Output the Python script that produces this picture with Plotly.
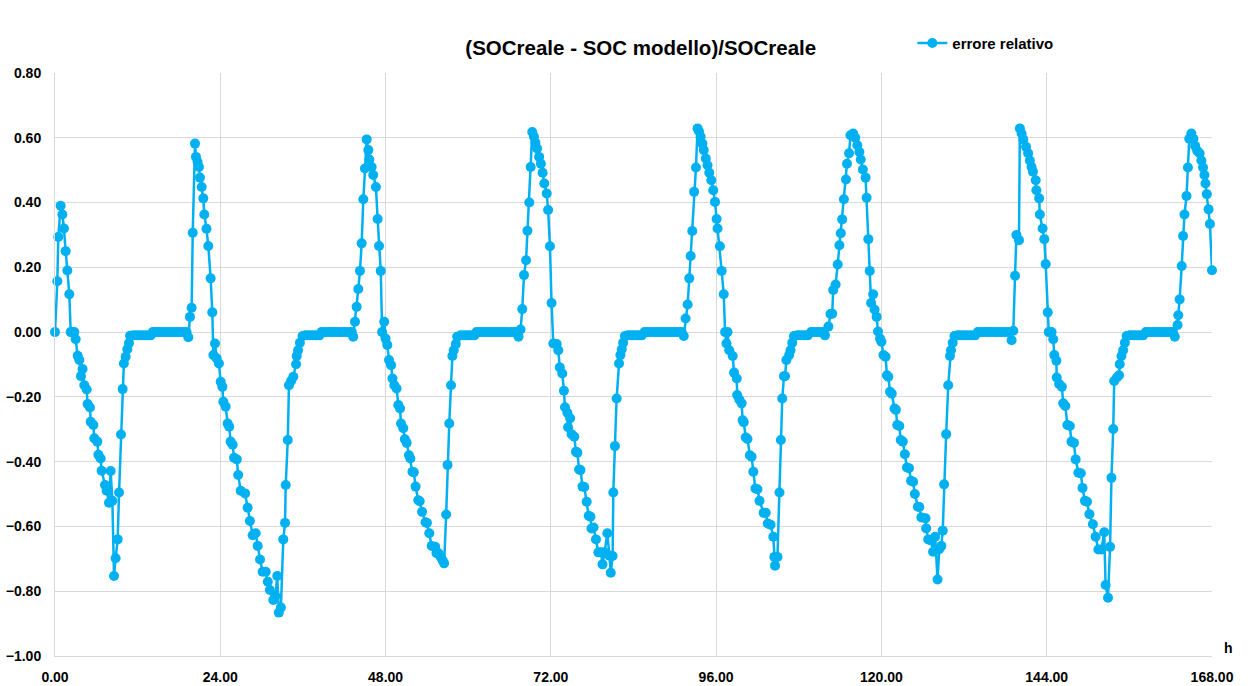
import plotly.graph_objects as go

# Errore relativo (SOCreale - SOC modello)/SOCreale lungo una settimana (ore)

ore_a = [0.00, 0.34, 0.48, 0.82, 1.07, 1.30, 1.55, 1.79, 2.08, 2.28,
         2.55, 2.80, 3.00, 3.29, 3.53, 3.77, 4.00, 4.26, 4.60, 4.74,
         5.08, 5.18, 5.57, 5.71, 6.15, 6.30, 6.63, 6.77, 7.26, 7.50,
         7.84, 8.08, 8.33, 8.57, 8.80, 9.10, 9.30, 9.58, 9.82, 10.00,
         10.26, 10.50, 10.74, 10.90,
         11.40, 11.90, 12.40, 12.90, 13.40, 13.90,
         14.20, 14.70, 15.20, 15.70, 16.20, 16.70, 17.20, 17.70, 18.20, 18.70, 19.10,
         19.36, 19.60, 19.84, 20.00]
err_a = [0.000, 0.157, 0.294, 0.390, 0.363, 0.320, 0.250, 0.190, 0.117, 0.000,
         0.000, 0.000, -0.022, -0.073, -0.086, -0.136, -0.114, -0.164, -0.177, -0.222,
         -0.233, -0.277, -0.287, -0.328, -0.338, -0.379, -0.390, -0.428, -0.472, -0.490,
         -0.527, -0.429, -0.521, -0.753, -0.698, -0.640, -0.495, -0.316, -0.176, -0.097,
         -0.076, -0.053, -0.034, -0.011,
         -0.010, -0.010, -0.010, -0.010, -0.010, -0.010,
         0.000, 0.000, 0.000, 0.000, 0.000, 0.000, 0.000, 0.000, 0.000, 0.000, 0.000,
         -0.016, 0.047, 0.075, 0.307]

ore_b = [20.33, 20.47, 20.70, 20.90, 21.05, 21.30, 21.53, 21.68, 22.00, 22.26,
         22.60, 22.84, 23.00, 23.23, 23.47, 23.80, 24.06, 24.30, 24.44, 24.78,
         25.07, 25.30, 25.50, 25.80, 26.00, 26.40, 26.60, 26.96, 27.60, 27.97,
         28.30, 28.70, 29.14, 29.43, 29.77, 30.15, 30.60, 30.90, 31.20, 31.70,
         32.00, 32.27, 32.50, 32.80, 33.15, 33.40, 33.50, 33.80, 33.97, 34.30,
         34.60, 35.00, 35.10, 35.30, 35.56, 35.95,
         36.40, 36.90, 37.40, 37.90, 38.40,
         38.70, 39.20, 39.70, 40.20, 40.70, 41.20, 41.70, 42.20, 42.70, 43.10,
         43.30]
err_b = [0.582, 0.541, 0.525, 0.510, 0.477, 0.448, 0.413, 0.363, 0.319, 0.266,
         0.166, 0.061, -0.071, -0.035, -0.081, -0.097, -0.153, -0.169, -0.215, -0.230,
         -0.282, -0.292, -0.338, -0.348, -0.388, -0.393, -0.441, -0.490, -0.498, -0.542,
         -0.583, -0.627, -0.621, -0.660, -0.702, -0.740, -0.740, -0.771, -0.796, -0.827,
         -0.815, -0.753, -0.866, -0.850, -0.640, -0.589, -0.472, -0.333, -0.164, -0.150,
         -0.138, -0.099, -0.074, -0.056, -0.033, -0.012,
         -0.010, -0.010, -0.010, -0.010, -0.010,
         0.000, 0.000, 0.000, 0.000, 0.000, 0.000, 0.000, 0.000, 0.000, 0.000,
         -0.014]

ore_c = [43.56, 43.80, 44.04, 44.28, 44.53, 44.77, 45.00, 45.26, 45.50, 45.64,
         45.98, 46.20, 46.60, 46.85, 47.05, 47.30, 47.50, 47.80, 48.00, 48.25,
         48.50, 48.80, 49.00, 49.27, 49.60, 49.85, 50.10, 50.24, 50.57, 50.80,
         51.06, 51.40, 51.60, 51.90, 52.10, 52.36, 52.75, 52.95, 53.30, 53.80,
         54.00, 54.35, 54.70, 55.20, 55.40, 55.70, 56.00, 56.30, 56.50, 56.80,
         57.00, 57.25, 57.50, 57.70, 57.90, 58.20, 58.40,
         58.90, 59.40, 59.90, 60.40, 60.90,
         61.20, 61.70, 62.20, 62.70, 63.20, 63.70, 64.20, 64.70, 65.20, 65.70,
         66.20, 66.70, 67.10,
         67.30]
err_c = [0.032, 0.078, 0.133, 0.189, 0.274, 0.410, 0.505, 0.595, 0.562, 0.533,
         0.510, 0.485, 0.448, 0.349, 0.266, 0.189, 0.000, 0.032, -0.020, -0.040,
         -0.086, -0.102, -0.143, -0.164, -0.174, -0.225, -0.236, -0.282, -0.297, -0.331,
         -0.342, -0.380, -0.390, -0.431, -0.433, -0.477, -0.519, -0.522, -0.555, -0.587,
         -0.589, -0.621, -0.660, -0.663, -0.683, -0.683, -0.694, -0.705, -0.714, -0.563,
         -0.410, -0.282, -0.164, -0.074, -0.056, -0.037, -0.014,
         -0.010, -0.010, -0.010, -0.010, -0.010,
         0.000, 0.000, 0.000, 0.000, 0.000, 0.000, 0.000, 0.000, 0.000, 0.000,
         0.000, 0.000, 0.000,
         -0.014]

ore_d = [67.60, 67.85, 68.10, 68.40, 68.60, 68.87, 69.07, 69.30, 69.55, 69.75,
         70.00, 70.30, 70.55, 70.80, 71.05, 71.40, 71.60, 71.87, 72.10, 72.35,
         72.85, 73.08, 73.30, 73.66, 73.90, 74.05, 74.40, 74.50, 74.80, 75.00,
         75.40, 75.65, 75.85, 76.10, 76.30, 76.60, 76.85, 77.20, 77.50, 77.75,
         77.90, 78.20, 78.55, 78.90, 79.30, 79.50, 79.80, 80.20, 80.50, 80.70,
         80.97, 81.07, 81.30, 81.55, 81.90, 82.10, 82.30, 82.50, 82.76,
         83.20, 83.70, 84.20, 84.70, 85.20,
         85.60, 86.10, 86.60, 87.10, 87.60, 88.10, 88.60, 89.10, 89.60, 90.10,
         90.60, 91.00,
         91.30]
err_d = [0.008, 0.071, 0.176, 0.222, 0.313, 0.400, 0.510, 0.618, 0.603, 0.585,
         0.567, 0.541, 0.520, 0.492, 0.459, 0.428, 0.377, 0.265, 0.090, -0.035,
         -0.037, -0.056, -0.109, -0.128, -0.181, -0.232, -0.249, -0.294, -0.266, -0.315,
         -0.323, -0.369, -0.372, -0.424, -0.426, -0.477, -0.478, -0.524, -0.567, -0.570,
         -0.606, -0.603, -0.640, -0.680, -0.680, -0.717, -0.680, -0.621, -0.690, -0.743,
         -0.691, -0.495, -0.352, -0.205, -0.097, -0.071, -0.053, -0.033, -0.012,
         -0.010, -0.010, -0.010, -0.010, -0.010,
         0.000, 0.000, 0.000, 0.000, 0.000, 0.000, 0.000, 0.000, 0.000, 0.000,
         0.000, 0.000,
         -0.012]

ore_e = [91.56, 91.86, 92.10, 92.30, 92.53, 92.80, 93.07, 93.30, 93.50, 93.75,
         94.00, 94.20, 94.50, 94.75, 95.00, 95.30, 95.58, 95.83, 96.07, 96.20,
         96.55, 96.80, 97.10, 97.30, 97.50, 97.65, 97.90, 98.40, 98.60, 99.00,
         99.05, 99.36, 99.70, 99.85, 100.00, 100.30, 100.55, 100.90, 101.15, 101.40,
         101.70, 102.00, 102.30, 102.90, 103.20, 103.50, 103.90, 104.30, 104.45, 104.55,
         104.90, 105.20, 105.40, 105.60, 105.85, 106.00, 106.20, 106.60, 106.80, 107.05,
         107.30,
         107.80, 108.30, 108.80, 109.30,
         109.80, 110.30, 110.80, 111.30, 111.60,
         111.80]
err_e = [0.042, 0.085, 0.166, 0.235, 0.312, 0.433, 0.508, 0.629, 0.620, 0.603,
         0.582, 0.562, 0.536, 0.515, 0.492, 0.469, 0.438, 0.402, 0.349, 0.320,
         0.265, 0.189, 0.117, 0.000, -0.035, 0.000, -0.056, -0.074, -0.125, -0.143,
         -0.194, -0.208, -0.220, -0.272, -0.278, -0.325, -0.330, -0.380, -0.385, -0.431,
         -0.483, -0.485, -0.521, -0.558, -0.558, -0.591, -0.595, -0.632, -0.694, -0.721,
         -0.694, -0.495, -0.333, -0.205, -0.136, -0.136, -0.086, -0.071, -0.056, -0.033,
         -0.012,
         -0.010, -0.010, -0.010, -0.010,
         0.000, 0.000, 0.000, 0.000, 0.000,
         -0.010]

ore_f = [112.30, 112.60, 112.85, 113.00, 113.35, 113.65, 113.90, 114.10, 114.30, 114.55,
         114.85, 115.00, 115.30, 115.50, 115.90, 116.20, 116.50, 116.80, 117.00, 117.30,
         117.70, 117.85, 118.10, 118.30, 118.50, 118.80, 119.00, 119.30, 119.50, 119.80,
         120.00, 120.30, 120.60, 120.80, 121.00, 121.25, 121.50, 121.90, 122.10, 122.30,
         122.60, 122.80, 123.10, 123.40, 123.70, 124.00, 124.30, 124.60, 124.85, 125.30,
         125.50, 125.80, 126.40, 126.50, 126.80, 127.20, 127.50, 127.80, 128.15, 128.40,
         128.70, 128.90, 129.10, 129.40, 129.70, 129.96, 130.10, 130.35, 130.60,
         131.10, 131.60, 132.10, 132.60, 133.10, 133.60,
         134.00, 134.50, 135.00, 135.50, 136.00, 136.50, 137.00, 137.50, 138.00, 138.50,
         138.90]
err_f = [0.017, 0.056, 0.057, 0.130, 0.147, 0.209, 0.268, 0.305, 0.348, 0.410,
         0.471, 0.520, 0.552, 0.608, 0.613, 0.600, 0.577, 0.556, 0.533, 0.502,
         0.477, 0.415, 0.287, 0.189, 0.090, 0.117, 0.070, 0.047, 0.002, -0.020,
         -0.030, -0.071, -0.076, -0.133, -0.138, -0.184, -0.190, -0.236, -0.240, -0.287,
         -0.290, -0.333, -0.338, -0.377, -0.418, -0.420, -0.459, -0.462, -0.500, -0.539,
         -0.540, -0.572, -0.575, -0.606, -0.640, -0.643, -0.678, -0.632, -0.764, -0.670,
         -0.660, -0.613, -0.470, -0.315, -0.164, -0.074, -0.056, -0.033, -0.012,
         -0.010, -0.010, -0.010, -0.010, -0.010, -0.010,
         0.000, 0.000, 0.000, 0.000, 0.000, 0.000, 0.000, 0.000, 0.000, 0.000,
         -0.025]

ore_g = [139.15, 139.40, 139.60, 139.97, 140.10, 140.35, 140.60, 141.00, 141.30, 141.55,
         141.80, 142.00, 142.40, 142.50, 142.90, 143.00, 143.40, 143.65, 143.85, 144.15,
         144.30, 144.70, 144.95, 145.10, 145.40, 145.45, 145.80, 146.20, 146.40, 146.70,
         147.00, 147.35, 147.60, 147.95, 148.20, 148.60, 148.95, 149.20, 149.55, 149.85,
         150.20, 150.70, 151.10, 151.50, 151.95, 152.35, 152.55, 152.90, 153.20, 153.40,
         153.66, 153.80, 154.20, 154.50, 154.60, 154.85, 155.10, 155.35, 155.60,
         156.10, 156.60, 157.10, 157.60, 158.00,
         158.40, 158.90, 159.40, 159.90, 160.40, 160.90, 161.40, 161.90, 162.30,
         162.60, 163.00, 163.10, 163.30, 163.60, 163.80, 164.00, 164.30, 164.50, 164.70,
         165.00, 165.30, 165.55, 165.85, 166.20, 166.45, 166.70, 166.90, 167.05, 167.25,
         167.50, 167.70, 168.00]
err_g = [0.004, 0.174, 0.300, 0.284, 0.629, 0.613, 0.595, 0.572, 0.552, 0.530,
         0.510, 0.495, 0.469, 0.438, 0.413, 0.363, 0.320, 0.287, 0.210, 0.061,
         0.000, 0.000, -0.022, -0.071, -0.088, -0.140, -0.160, -0.169, -0.220, -0.228,
         -0.287, -0.290, -0.338, -0.342, -0.393, -0.434, -0.436, -0.481, -0.521, -0.524,
         -0.562, -0.593, -0.632, -0.671, -0.671, -0.618, -0.781, -0.820, -0.663, -0.450,
         -0.299, -0.151, -0.140, -0.133, -0.099, -0.074, -0.056, -0.033, -0.012,
         -0.010, -0.010, -0.010, -0.010, -0.010,
         0.000, 0.000, 0.000, 0.000, 0.000, 0.000, 0.000, 0.000, 0.000,
         -0.014, 0.022, 0.052, 0.101, 0.204, 0.297, 0.363, 0.420, 0.508, 0.597,
         0.613, 0.597, 0.575, 0.560, 0.552, 0.530, 0.508, 0.485, 0.459, 0.426,
         0.379, 0.334, 0.191]

ore = ore_a + ore_b + ore_c + ore_d + ore_e + ore_f + ore_g
errore = err_a + err_b + err_c + err_d + err_e + err_f + err_g

BLU = "#00B0F0"
GRIGLIA = "#D9D9D9"
FONT = "Liberation Sans, Arial, sans-serif"

fig = go.Figure()
fig.add_trace(go.Scatter(
    x=ore, y=errore,
    mode="lines+markers",
    name="errore relativo",
    line=dict(color=BLU, width=2.5),
    marker=dict(color=BLU, size=10),
    cliponaxis=False,
))

fig.update_layout(
    width=1254, height=686,
    margin=dict(l=55, r=42, t=73, b=30),
    paper_bgcolor="white", plot_bgcolor="white",
    font=dict(family=FONT, color="#000000", size=14),
    title=dict(
        text="(SOCreale - SOC modello)/SOCreale",
        x=0.511, xanchor="center", y=0.931, yanchor="middle",
        font=dict(family=FONT, size=20.5, color="#000000", weight="bold"),
    ),
    showlegend=True,
    legend=dict(
        orientation="h", x=0.741, xanchor="left", y=1.051, yanchor="middle",
        font=dict(family=FONT, size=15, color="#000000", weight="bold"),
        bgcolor="rgba(0,0,0,0)",
    ),
)

fig.update_xaxes(
    range=[0, 168], tick0=0, dtick=24, tickformat=".2f",
    showgrid=True, gridcolor=GRIGLIA, gridwidth=1,
    showline=True, linecolor=GRIGLIA, linewidth=1,
    zeroline=False, ticks="", automargin=False,
    tickfont=dict(family=FONT, size=14, color="#000000", weight="bold"),
    ticklabelstandoff=8,
)
fig.update_yaxes(
    range=[-1.0, 0.8], tick0=-1.0, dtick=0.2, tickformat=".2f",
    showgrid=True, gridcolor=GRIGLIA, gridwidth=1,
    showline=True, linecolor=GRIGLIA, linewidth=1,
    zeroline=False, ticks="", automargin=False,
    tickfont=dict(family=FONT, size=14, color="#000000", weight="bold"),
    ticklabelstandoff=10,
)

fig.add_annotation(
    text="h", xref="paper", yref="paper", x=1.014, y=0.014,
    xanchor="center", yanchor="middle", showarrow=False,
    font=dict(family=FONT, size=14, color="#000000", weight="bold"),
)

fig.write_html("out.html")
